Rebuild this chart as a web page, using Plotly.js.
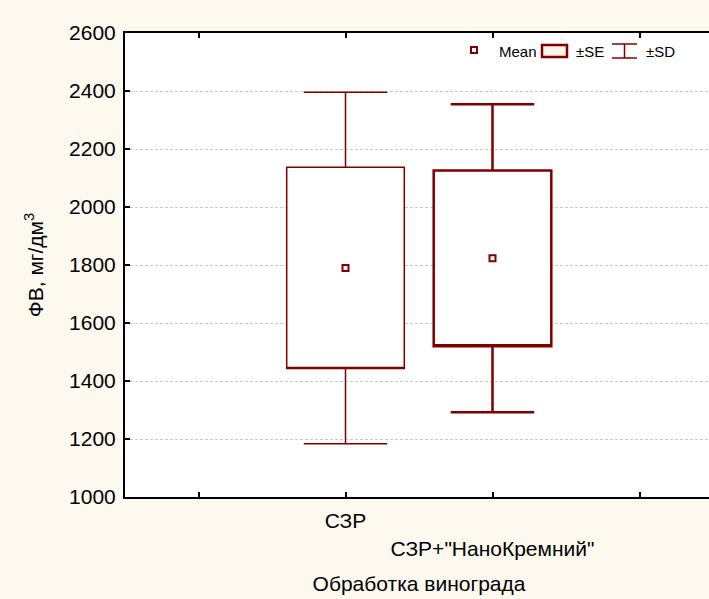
<!DOCTYPE html>
<html>
<head>
<meta charset="utf-8">
<script src="https://cdn.plot.ly/plotly-3.0.1.min.js"></script>
<style>
html,body{margin:0;padding:0;overflow:hidden;background:#fdf9ef;}
#chart{width:740px;height:599px;}
</style>
</head>
<body>
<div id="chart"></div>
<script>
// Data
const categories = ['СЗР', 'СЗР+"НаноКремний"'];
const catPos = [1, 2];
const means = [1790, 1823];
const se = [347, 303];
const sd = [606, 531];
const yTicks = [1000, 1200, 1400, 1600, 1800, 2000, 2200, 2400, 2600];
const legendLabels = ['Mean', '±SE', '±SD'];

const RED = '#800000';
const FONT = 'Liberation Sans, Arial, sans-serif';
const boxLineWidths = [1.5, 2.5];
const W = 740, H = 599;
const ML = 125, MR = 27, MT = 33, MB = 102;
const PW = W - ML - MR, PH = H - MT - MB;
const px = v => (v - ML) / PW;
const py = v => (H - MB - v) / PH;

const traces = [];
catPos.forEach((pos, i) => {
  const q1 = means[i] - se[i];
  traces.push({
    type: 'box',
    x: [pos],
    q1: [q1], median: [q1], q3: [means[i] + se[i]],
    lowerfence: [means[i] - sd[i]], upperfence: [means[i] + sd[i]],
    width: 0.8,
    whiskerwidth: 0.71,
    boxpoints: false,
    fillcolor: '#ffffff',
    line: {color: RED, width: boxLineWidths[i]},
    hoverinfo: 'skip',
    showlegend: false
  });
});
traces.push({
  type: 'scatter',
  mode: 'markers',
  x: catPos,
  y: means,
  marker: {symbol: 'square-open', size: 6, color: RED, line: {width: 2, color: RED}},
  showlegend: false
});

// legend glyphs (decoration)
const shapes = [
  {type:'rect', xref:'paper', yref:'paper', x0:px(471), x1:px(477), y0:py(53), y1:py(47), line:{color:RED,width:2}, fillcolor:'rgba(0,0,0,0)'},
  {type:'rect', xref:'paper', yref:'paper', x0:px(542), x1:px(567), y0:py(57), y1:py(45), line:{color:RED,width:2.5}, fillcolor:'#fdf6ea'},
  {type:'line', xref:'paper', yref:'paper', x0:px(612), x1:px(637), y0:py(44), y1:py(44), line:{color:RED,width:1.5}},
  {type:'line', xref:'paper', yref:'paper', x0:px(612), x1:px(637), y0:py(58), y1:py(58), line:{color:RED,width:1.5}},
  {type:'line', xref:'paper', yref:'paper', x0:px(624.5), x1:px(624.5), y0:py(44), y1:py(58), line:{color:RED,width:1.5}}
];
const legX = [497, 574, 644];
const annotations = legendLabels.map((t, i) => ({
  text: t, xref:'paper', yref:'paper', x: px(legX[i]), y: py(51),
  xanchor:'left', yanchor:'middle', showarrow:false,
  font:{family: FONT, size:15, color:'#000'}
}));

const layout = {
  width: W, height: H,
  margin: {l: ML, r: MR, t: MT, b: MB},
  paper_bgcolor: '#fdf9ef',
  plot_bgcolor: '#ffffff',
  font: {family: FONT, color: '#000', size: 21},
  showlegend: false,
  xaxis: {
    range: [-0.5, 3.5],
    tickmode: 'array',
    tickvals: [0, 1, 2, 3],
    ticktext: ['', categories[0], '<br>' + categories[1], ''],
    ticks: 'inside', ticklen: 5, tickwidth: 2, tickcolor: '#000',
    showline: true, linewidth: 2, linecolor: '#000', mirror: 'ticks',
    showgrid: false, zeroline: false,
    tickfont: {size: 21},
    ticklabelstandoff: 4,
    title: {text: 'Обработка винограда', font: {size: 21}, standoff: 18}
  },
  yaxis: {
    range: [1000, 2600],
    tickmode: 'array',
    tickvals: yTicks,
    ticktext: yTicks.map(String),
    ticks: 'inside', ticklen: 5, tickwidth: 2, tickcolor: '#000',
    showline: true, linewidth: 2, linecolor: '#000', mirror: false,
    showgrid: true, gridcolor: '#c8c8c8', gridwidth: 1, griddash: '3px,2px',
    zeroline: false,
    tickfont: {size: 21},
    ticklabelstandoff: 3,
    title: {text: 'ФВ, мг/дм<sup>3</sup>', font: {size: 21}, standoff: 20}
  },
  shapes: shapes,
  annotations: annotations
};

Plotly.newPlot('chart', traces, layout, {displayModeBar: false, staticPlot: true});
</script>
</body>
</html>
